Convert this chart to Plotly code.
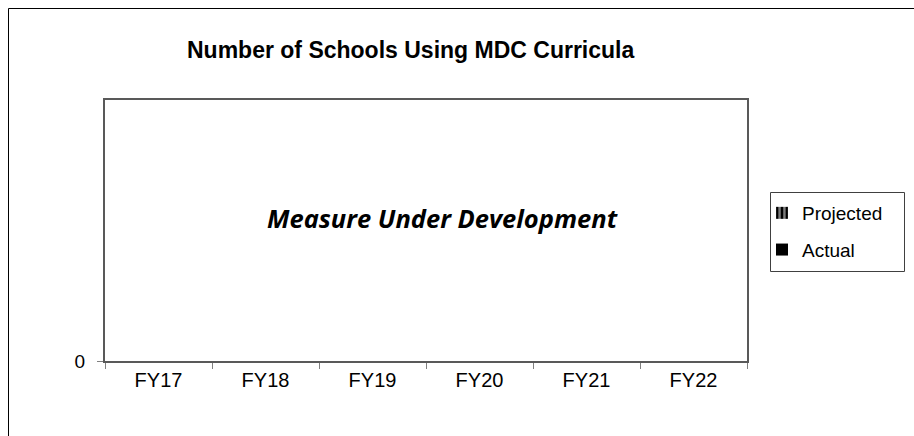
import plotly.graph_objects as go

categories = ["FY17", "FY18", "FY19", "FY20", "FY21", "FY22"]
projected = [0, 0, 0, 0, 0, 0]
actual = [0, 0, 0, 0, 0, 0]
y_ticks = [0]
y_tick_labels = ["0"]
title_text = "Number of Schools Using MDC Curricula"
note_text = "Measure Under Development"

W, H = 914, 436
def px_x(v): return v / W
def px_y(v): return 1 - v / H

fig = go.Figure()
fig.add_trace(go.Bar(x=categories, y=projected, name="Projected", legendgroup="p",
                     marker=dict(color="black", line=dict(width=0),
                                 pattern=dict(shape="|", fgcolor="white", bgcolor="black", size=6, solidity=0.5))))
fig.add_trace(go.Bar(x=categories, y=actual, name="Actual", legendgroup="a",
                     marker=dict(color="black", line=dict(width=0))))

font = "Liberation Sans, Arial, sans-serif"
axis_col = "#595959"
fig.update_layout(
    width=W, height=H, margin=dict(l=0, r=0, t=0, b=0, autoexpand=False),
    paper_bgcolor="white", plot_bgcolor="white",
    font=dict(family=font, size=19, color="black"),
    showlegend=True,
    legend=dict(x=px_x(762), y=px_y(194), xanchor="left", yanchor="top",
                borderwidth=0, bgcolor="rgba(0,0,0,0)", tracegroupgap=9,
                font=dict(size=19, family=font)),
    xaxis=dict(domain=[px_x(105), px_x(747)], showline=True, linecolor=axis_col, linewidth=2,
               mirror=True, ticks="outside", tickson="boundaries", ticklen=6, tickcolor="#808080",
               tickwidth=1, showgrid=False, zeroline=False, tickfont=dict(size=20)),
    yaxis=dict(domain=[1 - 361 / H, 1 - 100 / H], range=[0, 1], showline=True, linecolor=axis_col,
               linewidth=2, mirror=True, ticks="outside", ticklen=6, tickcolor="#808080",
               tickvals=y_ticks, ticktext=y_tick_labels, showgrid=False, zeroline=False,
               ticklabelstandoff=8, tickfont=dict(size=19)),
    shapes=[
        dict(type="rect", xref="paper", yref="paper", x0=px_x(8.5), x1=px_x(930),
             y0=px_y(8.5), y1=-0.1, line=dict(color="black", width=1)),
        dict(type="rect", xref="paper", yref="paper", x0=px_x(770.5), x1=px_x(904.5),
             y0=px_y(192.5), y1=px_y(271.5), line=dict(color="#404040", width=1)),
    ],
    annotations=[
        dict(text="<b>" + title_text + "</b>", x=px_x(410), y=px_y(50), xref="paper", yref="paper",
             showarrow=False, xanchor="center", yanchor="middle", font=dict(size=23, family=font)),
        dict(text="<b><i>" + note_text + "</i></b>", x=px_x(442.5), y=px_y(218), xref="paper", yref="paper",
             showarrow=False, xanchor="center", yanchor="middle",
             font=dict(size=25.5, family="Open Sans, sans-serif")),
    ],
)
post = ("var s=document.documentElement.style;s.margin='0';s.padding='0';s.overflow='hidden';"
        "var b=document.body.style;b.margin='0';b.padding='0';b.overflow='hidden';")
fig.write_html("out.html", config={"displayModeBar": False}, post_script=post)
